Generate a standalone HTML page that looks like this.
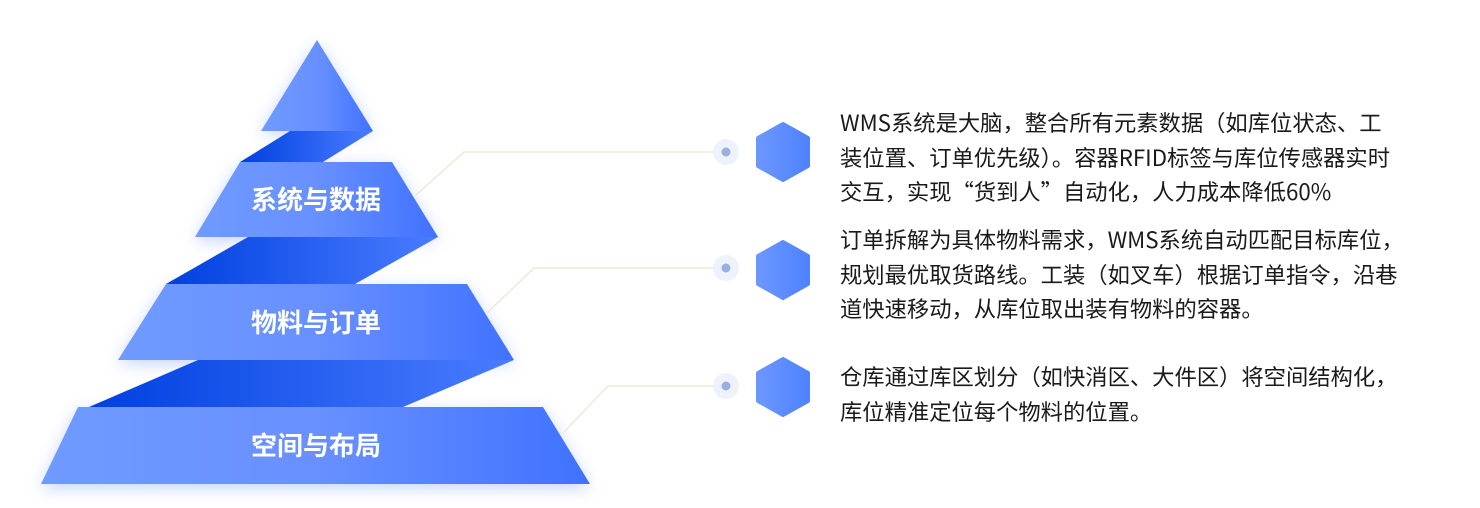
<!DOCTYPE html>
<html><head><meta charset="utf-8"><style>
body{margin:0;width:1480px;height:508px;background:#fff;overflow:hidden;position:relative;font-family:"Liberation Sans","Noto Sans CJK SC",sans-serif}
svg{position:absolute;left:0;top:0}
.t{position:absolute;left:840px;font-family:"Noto Sans CJK SC",sans-serif;font-size:22.3px;line-height:34.5px;color:#1a1a1a;white-space:nowrap}
</style></head><body>
<svg width="1480" height="508" viewBox="0 0 1480 508">
<defs>
<linearGradient id="g" x1="0" x2="1" y1="0" y2="0"><stop offset="0" stop-color="#6f9bff"/><stop offset="0.5" stop-color="#6890ff"/><stop offset="1" stop-color="#3f72ff"/></linearGradient>
<linearGradient id="d" x1="0" x2="1" y1="0" y2="0"><stop offset="0" stop-color="#0040e0"/><stop offset="1" stop-color="#4a7cff"/></linearGradient>
<linearGradient id="h" x1="0" x2="1"><stop offset="0" stop-color="#6c97ff"/><stop offset="1" stop-color="#4f82ff"/></linearGradient>
<filter id="s" x="-20%" y="-20%" width="140%" height="140%"><feGaussianBlur stdDeviation="8"/></filter>
</defs>
<g opacity="0.35" filter="url(#s)" fill="#5d86ff">
<polygon points="317,44 373,134 261,134"/>
<polygon points="240,166 392,166 438,241 195,241"/>
<polygon points="166,288 467,288 514,364 118,364"/>
<polygon points="78,411 543,411 590,488 41,488"/>
</g>
<polygon points="290,131 373,131 323,162 240,162" fill="url(#d)"/>
<polygon points="248,237 438,237 355,284 166,284" fill="url(#d)"/>
<polygon points="198,360 514,360 403,407 89,407" fill="url(#d)"/>
<polygon points="317,40 373,131 261,131" fill="url(#g)"/>
<polygon points="240,162 392,162 438,237 195,237" fill="url(#g)"/>
<polygon points="166,284 467,284 514,360 118,360" fill="url(#g)"/>
<polygon points="78,407 543,407 590,484 41,484" fill="url(#g)"/>
<g fill="#fff" font-family="Noto Sans CJK SC,sans-serif" font-weight="bold" font-size="26" text-anchor="middle">
<text x="316" y="209">系统与数据</text>
<text x="316" y="332">物料与订单</text>
<text x="316" y="455">空间与布局</text>
</g>
<g stroke="#efe9d6" stroke-width="1.5" fill="none">
<polyline points="416,195 464,152 714,152"/>
<polyline points="487,313 534,268 714,268"/>
<polyline points="562,434 608,386 714,386"/>
</g>
<g>
<circle cx="726" cy="152" r="13" fill="#eef2fb"/><circle cx="726" cy="152" r="4.5" fill="#9aafe0"/>
<circle cx="726" cy="268" r="13" fill="#eef2fb"/><circle cx="726" cy="268" r="4.5" fill="#9aafe0"/>
<circle cx="726" cy="386" r="13" fill="#eef2fb"/><circle cx="726" cy="386" r="4.5" fill="#9aafe0"/>
</g>
<g fill="url(#h)" stroke="url(#h)" stroke-width="4" stroke-linejoin="round">
<polygon points="783,124 808,138 808,166 783,180 758,166 758,138"/>
<polygon points="783,242 808,256 808,284 783,298 758,284 758,256"/>
<polygon points="783,359 808,373 808,401 783,415 758,401 758,373"/>
</g>
</svg>
<div class="t" style="top:105px">WMS系统是大脑，整合所有元素数据（如库位状态、工<br>装位置、订单优先级）。容器RFID标签与库位传感器实时<br>交互，实现“货到人”自动化，人力成本降低60%</div>
<div class="t" style="top:222px">订单拆解为具体物料需求，WMS系统自动匹配目标库位，<br>规划最优取货路线。工装（如叉车）根据订单指令，沿巷<br>道快速移动，从库位取出装有物料的容器。</div>
<div class="t" style="top:359px">仓库通过库区划分（如快消区、大件区）将空间结构化，<br>库位精准定位每个物料的位置。</div>
</body></html>
